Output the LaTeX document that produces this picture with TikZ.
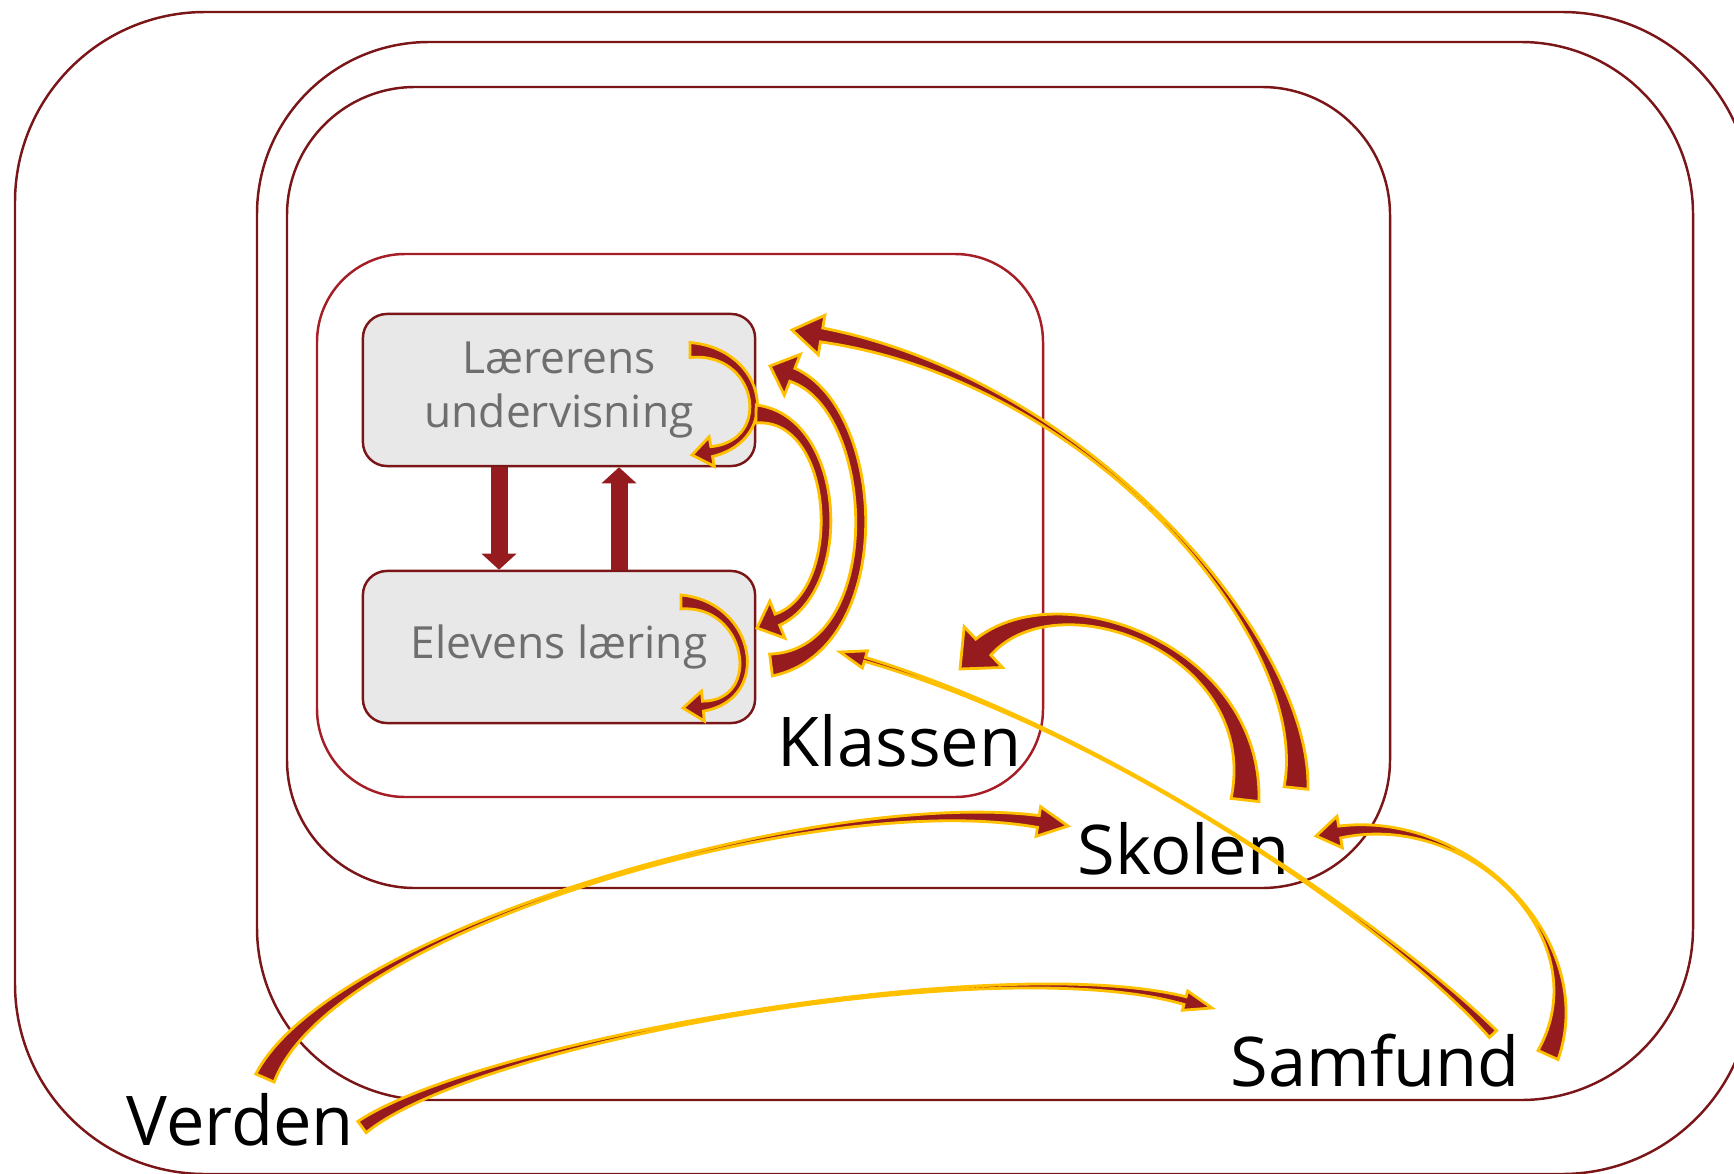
\documentclass[tikz,border=0pt]{standalone}
\usepackage{fontspec}
\setmainfont{Open Sans}
\usetikzlibrary{arrows.meta,calc}
\usepackage{tkz-euclide}
\definecolor{FrameClr}{RGB}{122,21,24}
\definecolor{KlasseClr}{RGB}{165,30,38}
\definecolor{ArrowClr}{RGB}{150,27,31}
\definecolor{EdgeClr}{RGB}{255,192,0}
\definecolor{BoxClr}{RGB}{232,232,232}
\definecolor{TextClr}{RGB}{110,110,110}

% Krum pil: hale, to kontrolpunkter, spids, halebredde, midte, hals, hovedbredde, hovedlængde.
\newcommand{\kurvepil}[9]{%
  \path ($(#4)!#9*0.01cm!(#3)$) coordinate (hals);
  \draw[pilfyld] ($(#1)!#5*0.01cm!90:(#2)$)
    .. controls ($(#2)!#6*0.01cm!90:(#3)$) and ($(#3)!#6*0.01cm!-90:(#2)$) ..
    ($(hals)!#7*0.01cm!90:(#4)$) -- ($(hals)!#8*0.01cm!90:(#4)$) -- (#4)
    -- ($(hals)!#8*0.01cm!-90:(#4)$) -- ($(hals)!#7*0.01cm!-90:(#4)$)
    .. controls ($(#3)!#6*0.01cm!90:(#2)$) and ($(#2)!#6*0.01cm!-90:(#3)$) ..
    ($(#1)!#5*0.01cm!-90:(#2)$) -- cycle;}

\begin{document}
\begin{tikzpicture}[x=0.01cm,y=-0.01cm,
  ramme/.style={draw=FrameClr,line width=0.7pt},
  boks/.style={draw=FrameClr,fill=BoxClr,line width=0.7pt,rounded corners=0.24cm,
    minimum width=3.92cm,minimum height=1.52cm,text=TextClr,align=center,
    font=\fontsize{12.6}{15.6}\selectfont},
  niveau/.style={anchor=base west,inner sep=0pt,font=\fontsize{19.5}{22}\selectfont},
  pilfyld/.style={fill=ArrowClr,draw=EdgeClr,line width=0.8pt,line join=miter},
  blokpil/.style={draw=ArrowClr,line width=0.17cm,-{Triangle[width=0.34cm,length=0.16cm]}}]
\useasboundingbox (0,0) rectangle (1734,1173);

% Niveauerne: Verden, Samfund, Skolen og Klassen.
\draw[ramme,rounded corners=1.9cm] (15,12) rectangle (1752,1174);
\draw[ramme,rounded corners=1.72cm] (257,42) rectangle (1693,1100);
\draw[ramme,rounded corners=1.28cm] (287,87) rectangle (1390,888);
\draw[ramme,draw=KlasseClr,rounded corners=0.88cm] (317,254) rectangle (1043,797);

% Lærerens undervisning og elevens læring.
\node[boks] (laerer) at (559,390) {Lærerens\\undervisning};
\node[boks] (elev) at (559,647) {Elevens læring};
\draw[blokpil] ($(laerer.south)+(-60,0)$) -- ($(elev.north)+(-60,0)$);
\draw[blokpil] ($(elev.north)+(60,0)$) -- ($(laerer.south)+(60,0)$);

% Navne på niveauerne.
\node[niveau] (klassen) at (777,766) {Klassen};
\node[niveau] (skolen) at (1077,874) {Skolen};
\node[niveau] (samfund) at (1230,1086) {Samfund};
\node[niveau] (verden) at (126,1145) {Verden};

% Punkter for de krumme pile: hale, kontrolpunkter og spids.
\tkzDefPoints{690/350/hLL,762/350/uLL,778/440/vLL,692/455/sLL}
\tkzDefPoints{681/602/hEE,751/603/uEE,768/700/vEE,683/708/sEE}
\tkzDefPoints{756/414/hLE,840/416/uLE,850/590/vLE,757/628/sLE}
\tkzDefPoints{771/665/hEL,892/650/uEL,882/410/vEL,770/366/sEL}
\tkzDefPoints{1296/788/hSL,1312/640/uSL,1090/380/vSL,792/330/sSL}
\tkzDefPoints{1245/800/hSK,1262/650/uSK,1060/575/vSK,960/669/sSK}
\tkzDefPoints{1548/1055/hMS,1600/940/uMS,1470/810/vMS,1316/836/sMS}
\tkzDefPoints{1493/1034/hMK,1400/935/uMK,1120/735/vMK,840/652/sMK}
\tkzDefPoints{265/1078/hVS,330/930/uVS,818/788/vVS,1068/826/sVS}
\tkzDefPoints{362/1127/hVM,480/1040/uVM,1000/950/vVM,1212/1008/sVM}

% Krumme pile mellem niveauerne.
\kurvepil{hLL}{uLL}{vLL}{sLL}{7.5}{5}{5}{15}{20}
\kurvepil{hEE}{uEE}{vEE}{sEE}{7}{5}{5}{15}{20}
\kurvepil{hLE}{uLE}{vLE}{sLE}{9}{6}{6}{20}{22}
\kurvepil{hEL}{uEL}{vEL}{sEL}{11}{6}{7}{22}{24}
\kurvepil{hSL}{uSL}{vSL}{sSL}{12}{0}{7}{20}{30}
\kurvepil{hSK}{uSK}{vSK}{sSK}{14}{4}{11}{28}{32}
\kurvepil{hMS}{uMS}{vMS}{sMS}{11}{0}{6}{16}{24}
\kurvepil{hMK}{uMK}{vMK}{sMK}{5}{0}{2}{9}{26}
\kurvepil{hVS}{uVS}{vVS}{sVS}{10}{0}{6}{15}{30}
\kurvepil{hVM}{uVM}{vVM}{sVM}{7}{0}{4}{10}{28}

\end{tikzpicture}
\end{document}
